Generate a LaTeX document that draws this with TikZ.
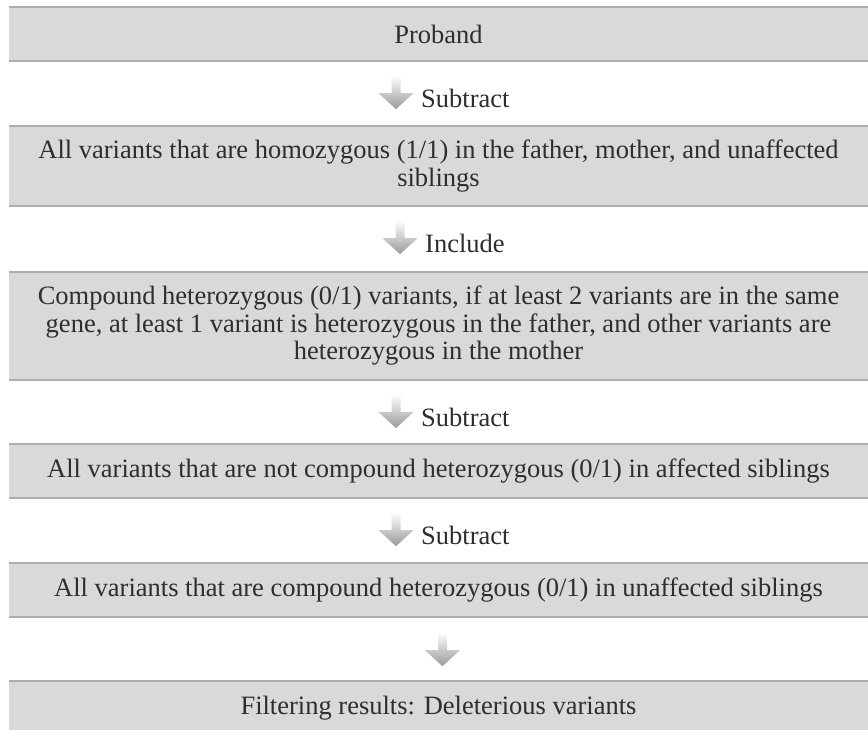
\documentclass[tikz,border=0pt]{standalone}
\usepackage{fontspec}
\setmainfont{Liberation Serif}
\usetikzlibrary{calc}
\definecolor{boxfill}{HTML}{D9D9D9}
\definecolor{boxrule}{HTML}{ADADAD}
\definecolor{inktext}{HTML}{2E2E2E}
\definecolor{arrowgray}{HTML}{9A9A9A}
\begin{document}
\begin{tikzpicture}[x=1pt,y=-1pt,
  stage/.style={fill=boxfill, minimum width=859pt, inner sep=0pt, align=center,
    text=inktext, font=\fontsize{26.5}{27.5}\selectfont},
  rule/.style={draw=boxrule, line width=2pt},
  lab/.style={anchor=west, inner sep=0pt, text=inktext,
    font=\fontsize{26.5}{27.5}\selectfont},
  downarr/.pic={
    \shade[top color=white, bottom color=arrowgray]
      (-4.5,0) -- (4.5,0) -- (4.5,18) -- (17.5,18) -- (0,34)
      -- (-17.5,18) -- (-4.5,18) -- cycle;
  }
]
\clip (0,0) rectangle (868,730);
\fill[white] (0,0) rectangle (868,730);

% stages of the filter
\node[stage, minimum height=56pt] (b1) at (438.5,34) {Proband};
\node[stage, minimum height=82pt] (b2) at (438.5,166)
  {All variants that are homozygous (1/1) in the father, mother, and unaffected\\siblings};
\node[stage, minimum height=110pt] (b3) at (438.5,326)
  {Compound heterozygous (0/1) variants, if at least 2 variants are in the same\\
   gene, at least 1 variant is heterozygous in the father, and other variants are\\
   heterozygous in the mother};
\node[stage, minimum height=56pt] (b4) at (438.5,471)
  {All variants that are not compound heterozygous (0/1) in affected siblings};
\node[stage, minimum height=56pt] (b5) at (438.5,590)
  {All variants that are compound heterozygous (0/1) in unaffected siblings};
\node[stage, minimum height=56pt] (b6) at (438.5,708)
  {Filtering results: Deleterious variants};

% top and bottom rules of every stage
\foreach \b in {b1,b2,b3,b4,b5,b6}{
  \draw[rule] ($(\b.north west)+(0,1)$) -- ($(\b.north east)+(0,1)$);
  \draw[rule] ($(\b.south west)+(0,-1)$) -- ($(\b.south east)+(0,-1)$);
}

% step arrows with their operations
\path ($(b1.south)+(-42.5,13)$) pic {downarr};
\node[lab] (l1) at ($(b1.south)+(-17.5,36)$) {Subtract};
\path ($(b2.south)+(-38.5,13)$) pic {downarr};
\node[lab] (l2) at ($(b2.south)+(-13.5,36)$) {Include};
\path ($(b3.south)+(-42.5,13)$) pic {downarr};
\node[lab] (l3) at ($(b3.south)+(-17.5,36)$) {Subtract};
\path ($(b4.south)+(-42.5,13)$) pic {downarr};
\node[lab] (l4) at ($(b4.south)+(-17.5,36)$) {Subtract};
\path ($(b5.south)+(4,14)$) pic {downarr};
\end{tikzpicture}
\end{document}
